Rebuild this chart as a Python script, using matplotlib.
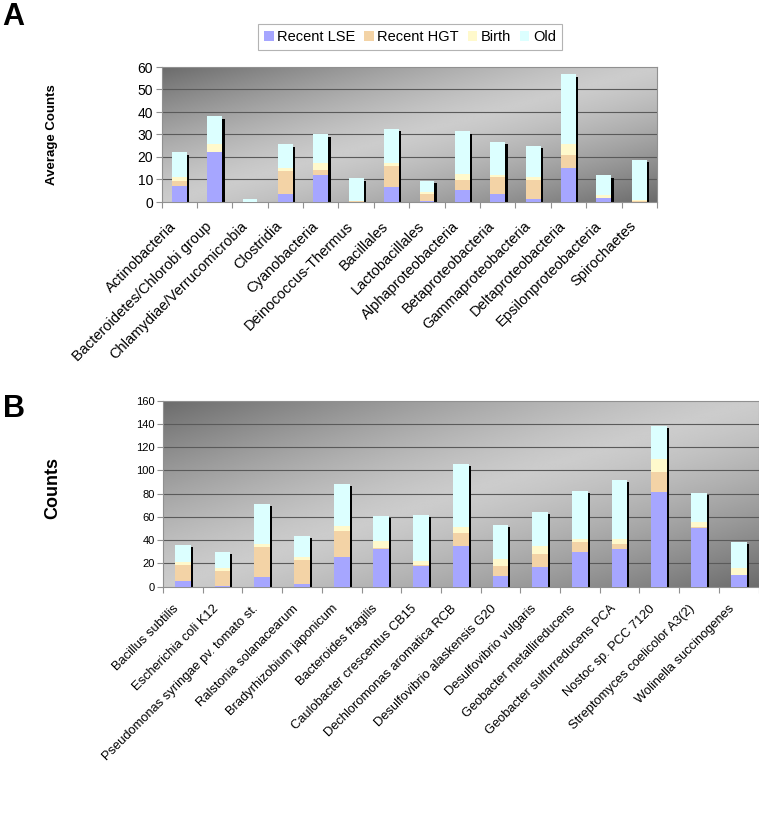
import numpy as np
import matplotlib
matplotlib.use("Agg")
import matplotlib.pyplot as plt
from matplotlib.transforms import ScaledTranslation, blended_transform_factory

plt.rcParams['font.family'] = ['Liberation Sans', 'DejaVu Sans']

series_names = ["Recent LSE", "Recent HGT", "Birth", "Old"]
series_colors = ["#a6a6ff", "#f3d3a6", "#fff9cc", "#dcffff"]

# Panel A
cats_a = ["Actinobacteria", "Bacteroidetes/Chlorobi group", "Chlamydiae/Verrucomicrobia",
          "Clostridia", "Cyanobacteria", "Deinococcus-Thermus", "Bacillales",
          "Lactobacillales", "Alphaproteobacteria", "Betaproteobacteria",
          "Gammaproteobacteria", "Deltaproteobacteria", "Epsilonproteobacteria",
          "Spirochaetes"]
lse_a = [7.1, 22.0, 0.0, 3.4, 11.9, 0.0, 6.5, 0.4, 5.4, 3.7, 1.5, 15.3, 1.8, 0.0]
hgt_a = [2.3, 0.3, 0.0, 10.4, 2.1, 0.4, 9.6, 3.2, 4.3, 7.3, 8.3, 5.7, 0.1, 0.6]
birth_a = [1.9, 3.3, 0.1, 1.5, 3.4, 0.2, 1.3, 0.7, 2.7, 0.9, 1.5, 4.6, 1.4, 0.1]
old_a = [10.7, 12.6, 1.1, 10.4, 12.7, 10.0, 15.2, 5.2, 19.0, 14.9, 13.6, 31.1, 8.5, 18.1]
yticks_a = [0, 10, 20, 30, 40, 50, 60]

# Panel B
cats_b = ["Bacillus subtilis", "Escherichia coli K12", "Pseudomonas syringae pv. tomato st.",
          "Ralstonia solanacearum", "Bradyrhizobium japonicum", "Bacteroides fragilis",
          "Caulobacter crescentus CB15", "Dechloromonas aromatica RCB",
          "Desulfovibrio alaskensis G20", "Desulfovibrio vulgaris",
          "Geobacter metallireducens", "Geobacter sulfurreducens PCA",
          "Nostoc sp. PCC 7120", "Streptomyces coelicolor A3(2)", "Wolinella succinogenes"]
lse_b = [5.2, 0.9, 8.6, 2.3, 25.9, 32.8, 17.8, 35.4, 8.9, 17.2, 29.9, 32.2, 81.3, 50.9, 10.1]
hgt_b = [13.5, 12.3, 25.9, 21.0, 21.8, 0.5, 0.9, 10.6, 8.9, 10.7, 8.6, 4.6, 17.6, 0.6, 0.2]
birth_b = [2.9, 2.6, 2.0, 2.3, 4.9, 6.4, 3.7, 5.7, 6.1, 7.2, 2.3, 4.3, 10.9, 4.0, 6.1]
old_b = [14.3, 14.1, 34.5, 18.4, 35.9, 21.2, 39.7, 54.1, 29.3, 29.0, 41.7, 50.9, 28.7, 25.3, 22.4]
yticks_b = [0, 20, 40, 60, 80, 100, 120, 140, 160]

fig = plt.figure(figsize=(7.59, 8.22), dpi=100)


def gradient_bg(ax):
    n = 300
    xx, yy = np.meshgrid(np.linspace(0, 1, n), np.linspace(0, 1, n))
    t = (xx + (1 - yy)) / 2.0  # 0 top-left, 1 bottom-right
    v = 0.80 - 0.38 * np.abs(2 * t - 1) ** 1.3
    ax.imshow(v, extent=[0, 1, 0, 1], origin='lower', transform=ax.transAxes,
              cmap='gray', vmin=0, vmax=1, aspect='auto', zorder=0,
              interpolation='bilinear')


def panel(ax, cats, segs, yticks, width, shadow_px, tick_fs, xlab_fs, lab_dx, lab_dy):
    x = np.arange(len(cats))
    gradient_bg(ax)
    ax.set_facecolor('none')
    for yv in yticks[1:-1]:
        ax.axhline(yv, color='#5a5a5a', lw=0.8, zorder=1)
    totals = np.sum(segs, axis=0)
    off = ScaledTranslation(shadow_px / 100.0, -shadow_px / 100.0, fig.dpi_scale_trans)
    sh = ax.bar(x, totals, width=width, color='black', zorder=2, linewidth=0)
    for p in sh:
        p.set_transform(ax.transData + off)
    bottom = np.zeros(len(cats))
    handles = []
    for vals, name, col in zip(segs, series_names, series_colors):
        b = ax.bar(x, vals, width=width, bottom=bottom, color=col, label=name,
                   zorder=3, linewidth=0)
        handles.append(b)
        bottom = bottom + np.array(vals)
    ax.set_xlim(-0.5, len(cats) - 0.5)
    ax.set_ylim(yticks[0], yticks[-1])
    ax.set_yticks(yticks)
    ax.set_yticklabels([str(v) for v in yticks], fontsize=tick_fs)
    ax.set_xticks(np.arange(len(cats) + 1) - 0.5)
    ax.set_xticklabels([])
    ax.tick_params(axis='x', length=4, color='#909090')
    ax.tick_params(axis='y', length=4, color='#909090', pad=2)
    # category labels, rotated 45 degrees and right-anchored under each category
    tr = blended_transform_factory(ax.transData, ax.transAxes) + \
        ScaledTranslation(lab_dx / 100.0, -lab_dy / 100.0, fig.dpi_scale_trans)
    for xi, c in zip(x, cats):
        ax.text(xi, 0, c, transform=tr, rotation=45, ha='right', va='top',
                rotation_mode='anchor', fontsize=xlab_fs, clip_on=False)
    for s in ax.spines.values():
        s.set_color('#909090')
        s.set_linewidth(0.8)
    return handles


axA = fig.add_axes([161.5 / 759, 1 - 202 / 822, (657 - 161.5) / 759, (202 - 67) / 822])
hA = panel(axA, cats_a, [lse_a, hgt_a, birth_a, old_a], yticks_a, 0.42, 2.5, 10, 10.5,
           -10, 17)

axB = fig.add_axes([163 / 759, 1 - 586.7 / 822, (758.5 - 163) / 759, (586.7 - 400.7) / 822])
hB = panel(axB, cats_b, [lse_b, hgt_b, birth_b, old_b], yticks_b, 0.40, 2.0, 8, 9.3,
           -10, 16)

fig.text(52 / 759, 1 - 135 / 822, "Average Counts", rotation=90, fontsize=9.5,
         fontweight='bold', ha='center', va='center')
fig.text(53 / 759, 1 - 488 / 822, "Counts", rotation=90, fontsize=13,
         fontweight='bold', ha='center', va='center')

fig.text(2 / 759, 1 - 2 / 822, "A", fontsize=22, fontweight='bold', ha='left', va='top')
fig.text(3 / 759, 1 - 394 / 822, "B", fontsize=22, fontweight='bold', ha='left', va='top')

leg = fig.legend(hA, series_names, loc='center', bbox_to_anchor=(410 / 759, 1 - 37 / 822),
                 ncol=4, fontsize=10.5, frameon=True, fancybox=False,
                 handlelength=0.65, handleheight=0.65, handletextpad=0.25,
                 columnspacing=0.6, borderpad=0.4, borderaxespad=0)
leg.get_frame().set_edgecolor('#a0a0a0')
leg.get_frame().set_linewidth(0.8)

fig.savefig("out.png", dpi=100)
